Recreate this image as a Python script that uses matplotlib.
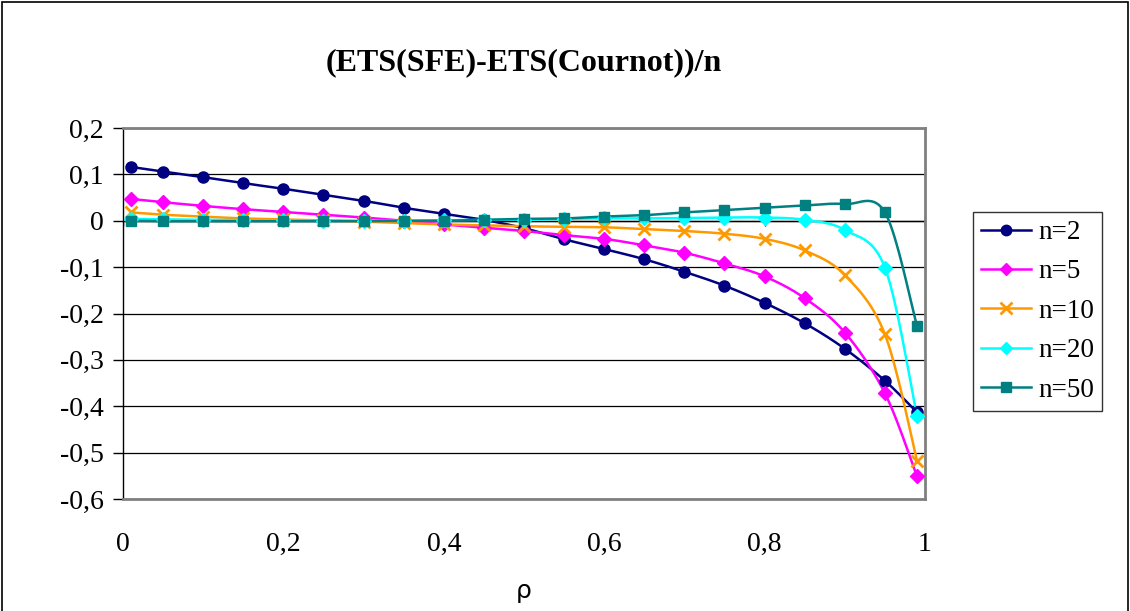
import numpy as np
import matplotlib
matplotlib.use("Agg")
import matplotlib.pyplot as plt
from matplotlib.patches import Rectangle

# ---- data ----
rho = [0.01, 0.05, 0.10, 0.15, 0.20, 0.25, 0.30, 0.35, 0.40, 0.45, 0.50,
       0.55, 0.60, 0.65, 0.70, 0.75, 0.80, 0.85, 0.90, 0.95, 0.99]
n2 = [0.116, 0.106, 0.094, 0.081, 0.069, 0.056, 0.043, 0.028, 0.015, 0.002, -0.016,
      -0.040, -0.061, -0.083, -0.110, -0.140, -0.177, -0.221, -0.276, -0.345, -0.413]
n5 = [0.047, 0.040, 0.032, 0.025, 0.019, 0.013, 0.007, 0.000, -0.008, -0.015, -0.022,
      -0.031, -0.039, -0.053, -0.069, -0.092, -0.120, -0.167, -0.241, -0.372, -0.551]
n10 = [0.018, 0.013, 0.009, 0.005, 0.003, 0.001, -0.002, -0.005, -0.008, -0.010, -0.012,
       -0.013, -0.014, -0.018, -0.022, -0.028, -0.039, -0.064, -0.117, -0.245, -0.517]
n20 = [0.004, 0.003, 0.002, 0.001, 0.001, 0.000, 0.000, 0.000, 0.001, 0.002, 0.002,
       0.004, 0.005, 0.005, 0.006, 0.007, 0.007, 0.002, -0.020, -0.101, -0.421]
n50 = [0.000, -0.001, -0.001, -0.001, -0.001, -0.001, -0.001, 0.000, 0.000, 0.002, 0.004,
       0.005, 0.009, 0.012, 0.018, 0.023, 0.028, 0.033, 0.036, 0.018, -0.228]

series_labels = ["n=2", "n=5", "n=10", "n=20", "n=50"]
series_values = [n2, n5, n10, n20, n50]

xticks = [0, 0.2, 0.4, 0.6, 0.8, 1.0]
xtick_labels = ["0", "0,2", "0,4", "0,6", "0,8", "1"]
yticks = [0.2, 0.1, 0.0, -0.1, -0.2, -0.3, -0.4, -0.5, -0.6]
ytick_labels = ["0,2", "0,1", "0", "-0,1", "-0,2", "-0,3", "-0,4", "-0,5", "-0,6"]

title = "(ETS(SFE)-ETS(Cournot))/n"
xlabel = "\u03c1"

# ---- styles ----
colors = ["#000080", "#FF00FF", "#FF9900", "#00FFFF", "#008080"]
markers = ["o", "D", "x", "D", "s"]
msizes = [8, 7, 8.5, 7, 7]


def smooth(x, y, steps=20):
    """Excel-like smoothed line (Catmull-Rom style cubic Bezier)."""
    x = np.asarray(x, float)
    y = np.asarray(y, float)
    n = len(x)
    xs, ys = [], []
    t = np.linspace(0, 1, steps)
    for i in range(n - 1):
        p0 = np.array([x[i], y[i]])
        p3 = np.array([x[i + 1], y[i + 1]])
        pm = np.array([x[i - 1], y[i - 1]]) if i > 0 else p0
        pp = np.array([x[i + 2], y[i + 2]]) if i + 2 < n else p3
        c1 = p0 + (p3 - pm) / 6.0
        c2 = p3 - (pp - p0) / 6.0
        b = ((1 - t) ** 3)[:, None] * p0 + (3 * (1 - t) ** 2 * t)[:, None] * c1 \
            + (3 * (1 - t) * t ** 2)[:, None] * c2 + (t ** 3)[:, None] * p3
        if i > 0:
            b = b[1:]
        xs.append(b[:, 0])
        ys.append(b[:, 1])
    return np.concatenate(xs), np.concatenate(ys)


fig = plt.figure(figsize=(11.30, 6.11), dpi=100)
ax = fig.add_axes([0.1088, 0.1833, 0.7098, 0.6072])

ax.set_xlim(0, 1)
ax.set_ylim(-0.6, 0.2)

# gridlines
for yv in yticks:
    ax.axhline(yv, color="#000000", lw=0.9, zorder=1)

handles = []
for vals, lab, c, m, ms in zip(series_values, series_labels, colors, markers, msizes):
    sx, sy = smooth(rho, vals)
    ax.plot(sx, sy, color=c, lw=1.8, zorder=3, solid_capstyle="round")
    mew = 2 if m == "x" else 1
    ax.plot(rho, vals, linestyle="none", marker=m, color=c, markersize=ms,
            markeredgewidth=mew, zorder=4, clip_on=False)
    h, = ax.plot([], [], color=c, lw=1.8, marker=m, markersize=ms - 0.5, markeredgewidth=mew, label=lab)
    handles.append(h)

# horizontal axis line at 0 with downward tick marks
ax.axhline(0, color="black", lw=1.0, zorder=2)
ax.vlines(xticks, -0.012, 0.0, color="black", lw=1.0, zorder=2)
ax.vlines([1.0], -0.012, 0.012, color="black", lw=1.0, zorder=2)

# spines
for s in ["top", "right", "bottom"]:
    ax.spines[s].set_color("#808080")
    ax.spines[s].set_linewidth(2)
ax.spines["left"].set_color("black")
ax.spines["left"].set_linewidth(1.0)

ax.set_xticks(xticks)
ax.set_xticklabels(xtick_labels)
ax.set_yticks(yticks)
ax.set_yticklabels(ytick_labels)
ax.tick_params(axis="x", length=0, pad=24)
ax.tick_params(axis="y", direction="out", length=7, width=1, pad=7)
for lab in ax.get_xticklabels() + ax.get_yticklabels():
    lab.set_fontfamily("Liberation Serif")
    lab.set_fontsize(20)

fig.text(0.5 * (0.1088 + 0.8186), 0.897, title, ha="center", va="center",
         fontsize=23, fontweight="bold", family="Liberation Serif")
fig.text(0.463, 0.033, xlabel, ha="center", va="center", fontsize=18,
         family="DejaVu Sans")

leg = fig.legend(handles=handles, loc="upper left", bbox_to_anchor=(0.861, 0.653),
                 prop={"family": "Liberation Serif", "size": 19.5},
                 frameon=True, fancybox=False, edgecolor="black", handlelength=1.85,
                 handletextpad=0.25, labelspacing=0.53, borderpad=0.3, borderaxespad=0)
leg.get_frame().set_linewidth(1.0)

# chart-area border
fig.patches.append(Rectangle((0.0018, -0.01), 0.9964, 1.0067, transform=fig.transFigure,
                             fill=False, edgecolor="black", lw=1.2))

fig.savefig("out.png", dpi=100)
